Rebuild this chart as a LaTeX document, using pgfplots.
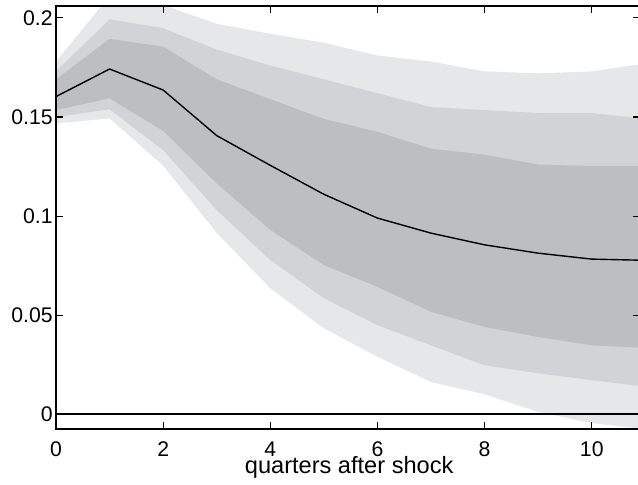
\documentclass[border=0pt]{standalone}
\usepackage{fontspec}
\setmainfont{Liberation Sans}
\usepackage{pgfplots}
\pgfplotsset{compat=1.18}
\usepackage{pgfplotstable}
\usepgfplotslibrary{fillbetween}
\definecolor{bandA}{RGB}{189,190,194}
\definecolor{bandB}{RGB}{210,211,214}
\definecolor{bandC}{RGB}{230,231,233}
\pgfplotstableread{
x  med    iu     il     mu     ml     ou     ol
0  0.1603 0.1690 0.1535 0.1730 0.1500 0.1780 0.1468
1  0.1742 0.1894 0.1594 0.1993 0.1539 0.2110 0.1493
2  0.1636 0.1855 0.1430 0.1948 0.1333 0.2065 0.1254
3  0.1406 0.1690 0.1165 0.1840 0.1030 0.1970 0.0915
4  0.1256 0.1590 0.0930 0.1760 0.0778 0.1920 0.0636
5  0.1110 0.1490 0.0753 0.1690 0.0586 0.1875 0.0434
6  0.0990 0.1425 0.0643 0.1620 0.0450 0.1810 0.0290
7  0.0914 0.1340 0.0517 0.1550 0.0348 0.1780 0.0163
8  0.0855 0.1310 0.0441 0.1535 0.0247 0.1730 0.0101
9  0.0813 0.1260 0.0390 0.1520 0.0207 0.1720 0.0012
10 0.0783 0.1253 0.0348 0.1520 0.0172 0.1730 -0.0044
11 0.0777 0.1253 0.0335 0.1490 0.0140 0.1770 -0.0075
}\data
\begin{document}
\begin{tikzpicture}
\begin{axis}[
  scale only axis,
  width=292pt, height=211.5pt,
  xmin=0, xmax=10.9,
  ymin=-0.0074, ymax=0.206,
  axis line style={black, line width=0.9pt},
  tick style={black, line width=0.6pt},
  tick align=inside,
  major tick length=3.5pt,
  xtick={0,2,4,6,8,10},
  xticklabels={0,2,4,6,8,10},
  ytick={0,0.05,0.1,0.15,0.2},
  yticklabels={0,0.05,0.1,0.15,0.2},
  xtick pos=both, ytick pos=both,
  /pgf/number format/assume math mode=true,
  ticklabel style={font=\fontsize{10.6}{12}\selectfont, inner sep=1pt},
  xticklabel style={yshift=-5.3pt},
  yticklabel style={xshift=-0.5pt},
  xlabel={quarters after shock},
  xlabel style={font=\fontsize{11.8}{13}\selectfont, at={(axis description cs:0.502,0)}, anchor=base, yshift=-22.5pt},
  axis on top,
]
\addplot[draw=none, name path=ou, forget plot] table[x=x, y=ou]{\data};
\addplot[draw=none, name path=ol, forget plot] table[x=x, y=ol]{\data};
\addplot[draw=none, name path=mu, forget plot] table[x=x, y=mu]{\data};
\addplot[draw=none, name path=ml, forget plot] table[x=x, y=ml]{\data};
\addplot[draw=none, name path=iu, forget plot] table[x=x, y=iu]{\data};
\addplot[draw=none, name path=il, forget plot] table[x=x, y=il]{\data};
\addplot[fill=bandC, draw=none, forget plot] fill between[of=ou and ol];
\addplot[fill=bandB, draw=none, forget plot] fill between[of=mu and ml];
\addplot[fill=bandA, draw=none, forget plot] fill between[of=iu and il];
\addplot[black, line width=0.7pt, no marks] table[x=x, y=med]{\data};
\addplot[black, line width=0.9pt, no marks] coordinates {(0,0) (11,0)};
\end{axis}
\pgfresetboundingbox
\useasboundingbox ([shift={(-28pt,-28pt)}]current axis.south west) rectangle ([shift={(-1pt,3pt)}]current axis.north east);
\end{tikzpicture}
\end{document}
